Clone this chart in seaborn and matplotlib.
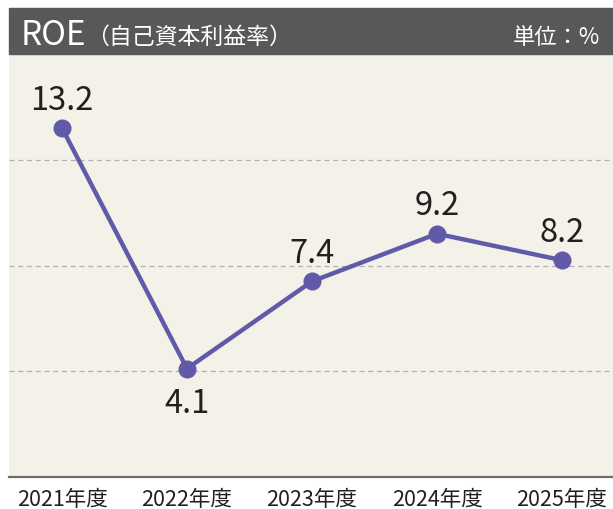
import numpy as np
import pandas as pd
import matplotlib
matplotlib.use("Agg")
import matplotlib.pyplot as plt
from matplotlib.patches import Rectangle
import seaborn as sns

# -----------------------------
# DATA
# -----------------------------
years = ["2021年度", "2022年度", "2023年度", "2024年度", "2025年度"]
roe = [13.2, 4.1, 7.4, 9.2, 8.2]
label_side = ["above", "below", "above", "above", "above"]
grid_levels = [4, 8, 12]

title_main = "ROE"
title_sub = "（自己資本利益率）"
unit_text = "単位：%"

# colours
HEADER = "#58585a"
PANEL = "#f4f1e9"
LINE = "#605aa9"
TEXT = "#231f20"

sns.set_style("white")
plt.rcParams["font.family"] = ["Noto Sans CJK JP", "DejaVu Sans"]

df = pd.DataFrame({"pos": np.arange(len(years)), "roe": roe})

W, H = 613, 510
fig = plt.figure(figsize=(W / 100, H / 100), dpi=100)
fig.patch.set_facecolor("white")

ax = fig.add_axes([9 / W, 1 - 478 / H, 604 / W, (478 - 55) / H])
ax.set_facecolor(PANEL)

for g in grid_levels:
    ax.axhline(g, color="#b0b0b4", lw=0.9, ls=(0, (4, 3)), zorder=1)

sns.lineplot(data=df, x="pos", y="roe", ax=ax, color=LINE, lw=3.2,
             marker="o", markersize=13, markeredgewidth=0, zorder=3)

for i, (v, side) in enumerate(zip(roe, label_side)):
    dy = 14 if side == "above" else -31
    ax.annotate(f"{v:.1f}", (i, v), xytext=(0, dy), textcoords="offset points",
                ha="center", va="baseline", fontsize=23.5, color=TEXT)

ax.set_xlim(-0.424, 4.408)
ax.set_ylim(0, 16)
ax.set_xticks(df["pos"])
ax.set_xticklabels(years, fontsize=15.5, color=TEXT)
ax.set_yticks([])
ax.set_xlabel("")
ax.set_ylabel("")
ax.tick_params(axis="x", direction="in", length=7.5, width=1.1,
               color="#6d6d6d", pad=8)
for s in ["top", "left", "right"]:
    ax.spines[s].set_visible(False)
ax.spines["bottom"].set_color("#6d6d6d")
ax.spines["bottom"].set_linewidth(1.6)

# header band
fig.patches.append(Rectangle((9 / W, 1 - 55 / H), 604 / W, 46 / H,
                             transform=fig.transFigure, color=HEADER, zorder=0))
fig.text(21 / W, 1 - 45 / H, title_main, color="white", fontsize=24,
         ha="left", va="baseline")
fig.text(86 / W, 1 - 44 / H, title_sub, color="white", fontsize=16.5,
         ha="left", va="baseline")
fig.text(600 / W, 1 - 44 / H, unit_text, color="white", fontsize=16,
         ha="right", va="baseline")

fig.savefig("out.png", dpi=100)
